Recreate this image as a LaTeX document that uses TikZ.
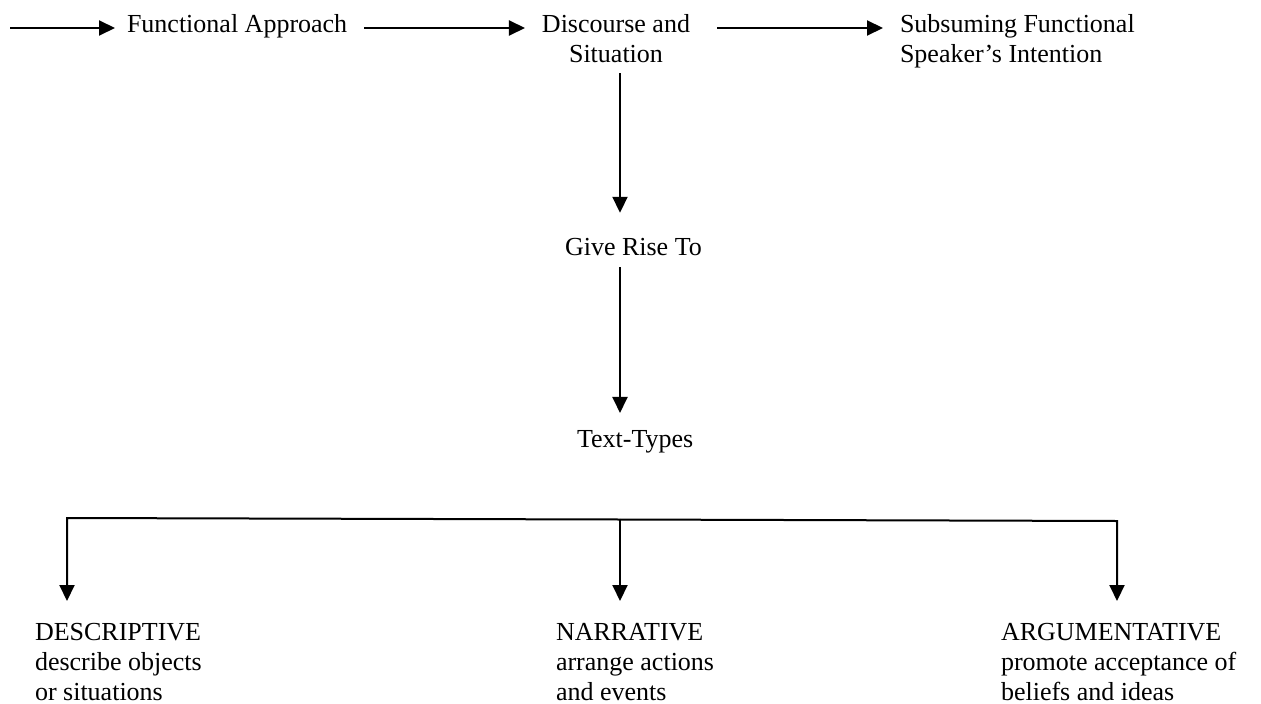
\documentclass[tikz,border=0pt]{standalone}
\usepackage{fontspec}
\setmainfont{Liberation Serif}
\usetikzlibrary{arrows.meta}
\begin{document}
\begin{tikzpicture}[x=1pt,y=-1pt,
  lbl/.style={inner sep=0pt,outer sep=0pt,font=\fontsize{26}{30}\selectfont},
  arr/.style={line width=2pt,-{Triangle[length=16pt,width=15pt]}}]
  \useasboundingbox (0,0) rectangle (1261,704);

  % top row
  \node[lbl,anchor=base west] (fa) at (127,32) {Functional Approach};
  \node[lbl,anchor=north,align=center] (ds) at (616,14) {Discourse and\\Situation};
  \node[lbl,anchor=north west,align=left] (sfs) at (900,14) {Subsuming Functional\\Speaker’s Intention};

  % middle column
  \node[lbl,anchor=base west] (gr) at (565,255) {Give Rise To};
  \node[lbl,anchor=base west] (tt) at (577,447) {Text-Types};

  % three text types
  \node[lbl,anchor=north west,align=left] (desc) at (35,623) {DESCRIPTIVE\\describe objects\\or situations};
  \node[lbl,anchor=north west,align=left] (narr) at (556,623) {NARRATIVE\\arrange actions\\and events};
  \node[lbl,anchor=north west,align=left] (arg) at (1001,623) {ARGUMENTATIVE\\promote acceptance of\\beliefs and ideas};

  % helper coordinates
  \coordinate (in) at (10,28);
  \coordinate (stem) at (620,0);
  \coordinate (bl) at (67,518);
  \coordinate (bm) at (620,519.5);
  \coordinate (br) at (1117,521);

  % horizontal chain
  \draw[arr,shorten >=12pt] (in) -- (in -| fa.west);
  \draw[arr,shorten <=17pt,shorten >=17pt] (in -| fa.east) -- (in -| ds.west);
  \draw[arr,shorten <=27pt,shorten >=17pt] (in -| ds.east) -- (in -| sfs.west);

  % vertical chain
  \draw[arr,shorten <=11pt,shorten >=25pt] (ds.south -| stem) -- (gr.north -| stem);
  \draw[arr,shorten <=12pt,shorten >=17pt] (gr.south -| stem) -- (tt.north -| stem);

  % branching bar
  \draw[arr,line join=miter,shorten >=22pt] (bm) -- (bl) -- (bl |- desc.north);
  \draw[arr,line join=miter,shorten >=22pt] (bm) -- (br) -- (br |- arg.north);
  \draw[arr,shorten >=22pt] (bm) -- (bm |- narr.north);
\end{tikzpicture}
\end{document}
